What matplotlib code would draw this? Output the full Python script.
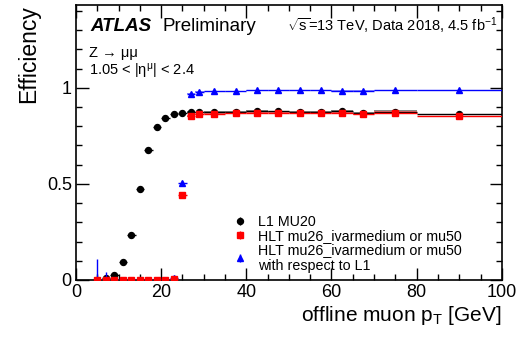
import numpy as np
import matplotlib
matplotlib.use("Agg")
import matplotlib.pyplot as plt
from matplotlib.ticker import MultipleLocator
from matplotlib.legend_handler import HandlerErrorbar

plt.rcParams['font.family'] = ['Liberation Sans', 'DejaVu Sans']
plt.rcParams['mathtext.fontset'] = 'custom'
plt.rcParams['mathtext.rm'] = 'Liberation Sans'
plt.rcParams['mathtext.it'] = 'Liberation Sans:italic'

# bin centres and half widths (GeV)
bin_mid = [5, 7, 9, 11, 13, 15, 17, 19, 21, 23, 25, 27, 29,
           32.5, 37.5, 42.5, 47.5, 52.5, 57.5, 62.5, 67.5, 75, 90]
bin_half = [1, 1, 1, 1, 1, 1, 1, 1, 1, 1, 1, 1, 1,
            2.5, 2.5, 2.5, 2.5, 2.5, 2.5, 2.5, 2.5, 5, 10]

# L1 MU20
eff_l1 = [0.0, 0.012, 0.024, 0.096, 0.234, 0.474, 0.677, 0.795, 0.842, 0.865, 0.870, 0.875, 0.872,
          0.873, 0.873, 0.880, 0.877, 0.875, 0.873, 0.879, 0.868, 0.875, 0.861]
err_l1 = [0.002, 0.004, 0.005, 0.006, 0.007, 0.007, 0.006, 0.005, 0.004, 0.004, 0.003, 0.003, 0.003,
          0.002, 0.002, 0.002, 0.002, 0.002, 0.002, 0.003, 0.003, 0.003, 0.005]
sys_l1 = [0.004] * 10 + [0.009]

# HLT mu26_ivarmedium or mu50
eff_hlt = [0.0, 0.0, 0.0, 0.0, 0.0, 0.0, 0.0, 0.0, 0.0, 0.007, 0.443, 0.854, 0.862,
           0.866, 0.868, 0.871, 0.871, 0.871, 0.868, 0.871, 0.861, 0.871, 0.854]
err_hlt = [0.001, 0.001, 0.001, 0.001, 0.001, 0.001, 0.001, 0.001, 0.001, 0.002, 0.006, 0.004, 0.003,
           0.002, 0.002, 0.002, 0.002, 0.002, 0.002, 0.003, 0.003, 0.003, 0.005]
sys_hlt = [0.004] * 10 + [0.009]

# HLT w.r.t. L1
eff_rel = [0.0, 0.0, 0.0, 0.0, 0.0, 0.0, 0.0, 0.0, 0.0, 0.008, 0.507, 0.969, 0.980,
           0.981, 0.981, 0.986, 0.986, 0.986, 0.986, 0.983, 0.983, 0.986, 0.986]
err_rel_lo = [0.0, 0.0, 0.0, 0.0, 0.0, 0.0, 0.0, 0.0, 0.0, 0.004, 0.007, 0.003, 0.002,
              0.002, 0.001, 0.001, 0.001, 0.001, 0.001, 0.002, 0.002, 0.002, 0.002]
err_rel_hi = [0.109, 0.043, 0.01, 0.004, 0.002, 0.001, 0.001, 0.001, 0.001, 0.004, 0.007, 0.003, 0.002,
              0.002, 0.001, 0.001, 0.001, 0.001, 0.001, 0.002, 0.002, 0.002, 0.002]
sys_rel = [0.003] * 10 + [0.004]

x = np.array(bin_mid)
xe = np.array(bin_half)
first_band = 11  # bands drawn from the 26-28 GeV bin

fig = plt.figure(figsize=(5.26, 3.41), dpi=100)
ax = fig.add_axes([0.1445, 0.179, 0.8095, 0.806])


def band(vals, sysv, color):
    for i, s in zip(range(first_band, len(x)), sysv):
        ax.fill_between([x[i] - xe[i], x[i] + xe[i]], vals[i] - s, vals[i] + s,
                        color=color, lw=0, zorder=1)


band(eff_l1, sys_l1, '#888888')
band(eff_hlt, sys_hlt, '#ff7070')
band(eff_rel, sys_rel, '#9090ff')

h1 = ax.errorbar(x, eff_l1, yerr=err_l1, xerr=xe, fmt='o', color='black', ms=4.3,
                 elinewidth=1, capsize=0, zorder=3)
h3 = ax.errorbar(x, eff_rel, yerr=[err_rel_lo, err_rel_hi], xerr=xe, fmt='^', color='#0000ff',
                 ms=4.0, elinewidth=1, capsize=0, zorder=4)
h2 = ax.errorbar(x, eff_hlt, yerr=err_hlt, xerr=xe, fmt='s', color='#ff0000', ms=4.8,
                 elinewidth=1, capsize=0, zorder=5)

ax.set_xlim(0, 100)
ax.set_ylim(0, 1.43)
ax.xaxis.set_major_locator(MultipleLocator(20))
ax.xaxis.set_minor_locator(MultipleLocator(5))
ax.yaxis.set_major_locator(MultipleLocator(0.5))
ax.yaxis.set_minor_locator(MultipleLocator(0.1))
ax.set_yticks([0, 0.5, 1])
ax.set_yticklabels(['0', '0.5', '1'])
ax.tick_params(which='both', direction='in', top=True, right=True, labelsize=13, width=1)
ax.tick_params(which='major', length=9, pad=3)
ax.tick_params(which='minor', length=4.5)
for sp in ax.spines.values():
    sp.set_linewidth(1.2)

ax.set_xlabel(r'offline muon p$_{\mathrm{T}}$ [GeV]', fontsize=15, loc='right', labelpad=2)
ax.set_ylabel('Efficiency', fontsize=16.5, loc='top', labelpad=5)

ax.text(0.033, 0.905, 'ATLAS', transform=ax.transAxes, fontsize=13.5, fontweight='bold',
        fontstyle='italic')
ax.text(0.203, 0.905, 'Preliminary', transform=ax.transAxes, fontsize=13.5)
ax.text(0.99, 0.905, r'$\sqrt{\mathrm{s}}$=13 TeV, Data 2018, 4.5 fb$^{-1}$', transform=ax.transAxes,
        fontsize=10.5, ha='right')
ax.text(0.03, 0.81, 'Z → μμ', transform=ax.transAxes, fontsize=10.5)
ax.text(0.03, 0.745, r'1.05 < |η$^{\mathrm{μ}}$| < 2.4', transform=ax.transAxes, fontsize=10.5)

leg = ax.legend([h1, h2, h3],
                ['L1 MU20', 'HLT mu26_ivarmedium or mu50',
                 'HLT mu26_ivarmedium or mu50\nwith respect to L1'],
                handler_map={type(h1): HandlerErrorbar(xerr_size=0, yerr_size=0.28)},
                loc='lower left', bbox_to_anchor=(0.356, 0.005), frameon=False, fontsize=10.3,
                handlelength=1.0, handletextpad=0.7, labelspacing=0.0, borderaxespad=0)

plt.savefig('out.png', dpi=100)
